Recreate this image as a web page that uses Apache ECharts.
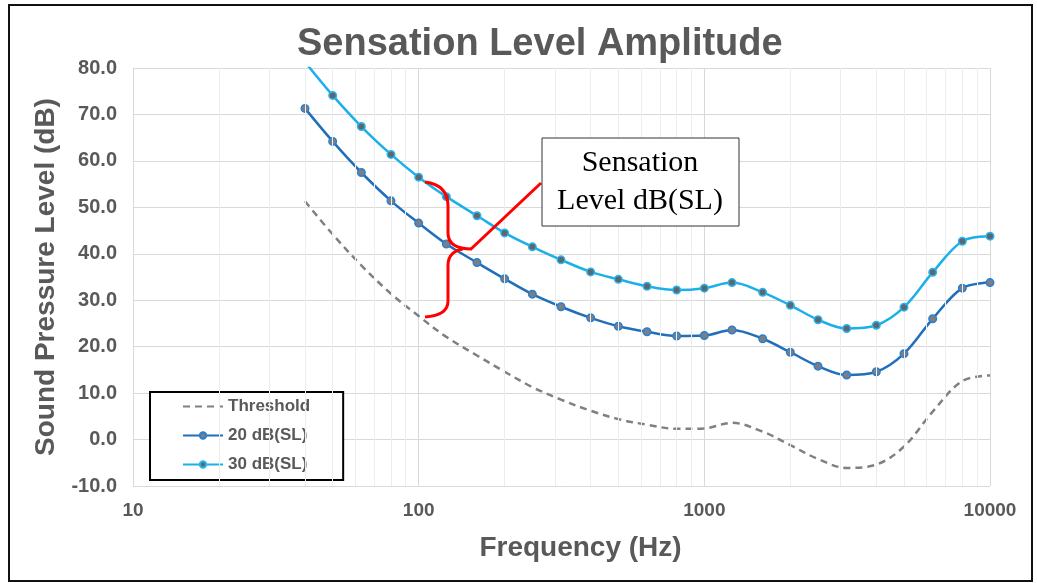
<!DOCTYPE html>
<html>
<head>
<meta charset="utf-8">
<script src="https://cdn.jsdelivr.net/npm/echarts@6/dist/echarts.min.js"></script>
<style>
html,body{margin:0;padding:0;background:#fff;}
#chart{width:1037px;height:583px;}
</style>
</head>
<body>
<div id="chart"></div>
<script>
// ---- data ----
const frequencies = [40,50,63,80,100,125,160,200,250,315,400,500,630,800,1000,1250,1600,2000,2500,3150,4000,5000,6300,8000,10000];
const threshold = [51.3,44.2,37.5,31.4,26.6,22.1,18.1,14.6,11.3,8.6,6.2,4.4,3.2,2.3,2.4,3.6,1.7,-1.2,-4.2,-6.1,-5.4,-1.5,6.0,12.6,13.8];
const sl20 = [71.3,64.2,57.5,51.4,46.6,42.1,38.1,34.6,31.3,28.6,26.2,24.4,23.2,22.3,22.4,23.6,21.7,18.8,15.8,13.9,14.6,18.5,26.0,32.6,33.8];
const sl30 = [81.3,74.1,67.4,61.4,56.5,52.3,48.2,44.5,41.5,38.7,36.1,34.5,33.0,32.2,32.6,33.8,31.7,28.9,25.8,23.9,24.6,28.5,36.0,42.7,43.8];
const seriesNames = ['Threshold','20 dB(SL)','30 dB(SL)'];
const minorFreqs = [20,30,40,50,60,70,80,90,200,300,400,500,600,700,800,900,2000,3000,4000,5000,6000,7000,8000,9000];
const titleText = 'Sensation Level Amplitude';
const xName = 'Frequency (Hz)';
const yName = 'Sound Pressure Level (dB)';
const noteLines = ['Sensation','Level dB(SL)'];

const pair = (ys) => frequencies.map((f,i)=>[f, ys[i]]);
const gray = '#595959';
const font = '"Liberation Sans", Arial, sans-serif';
const red = {fill:'none',stroke:'#ff0000',lineWidth:3};
const bez = (x1,y1,c1x,c1y,c2x,c2y,x2,y2) => ({type:'bezierCurve',z:100,silent:true,
  shape:{x1:x1,y1:y1,cpx1:c1x,cpy1:c1y,cpx2:c2x,cpy2:c2y,x2:x2,y2:y2},style:red});
const seg = (x1,y1,x2,y2) => ({type:'line',z:100,silent:true,shape:{x1:x1,y1:y1,x2:x2,y2:y2},style:red});

const chart = echarts.init(document.getElementById('chart'), null, {renderer:'canvas'});
chart.setOption({
  animation:false,
  backgroundColor:'#fff',
  title:{
    text:titleText, left:292, top:21,
    textStyle:{fontFamily:font,fontSize:38,fontWeight:'bold',color:gray}
  },
  grid:{left:133,right:47,top:68,bottom:97,containLabel:false},
  legend:{
    data:[
      {name:seriesNames[0], itemStyle:{opacity:0}},
      {name:seriesNames[1]},
      {name:seriesNames[2]}
    ],
    orient:'vertical', left:150, top:392,
    padding:[6,33,7,32], itemGap:12, itemWidth:40, itemHeight:8,
    backgroundColor:'#fff', borderColor:'#000', borderWidth:2,
    textStyle:{fontFamily:font,fontSize:17,fontWeight:'bold',color:gray}
  },
  xAxis:{
    type:'log', logBase:10, min:10, max:10000,
    name:xName, nameLocation:'middle', nameGap:48,
    nameTextStyle:{fontFamily:font,fontSize:28,fontWeight:'bold',color:gray,padding:[0,0,0,38]},
    axisLine:{show:false}, axisTick:{show:false},
    axisLabel:{fontFamily:font,fontSize:19,fontWeight:'bold',color:gray,margin:15,formatter:v=>String(v)},
    splitLine:{show:true,lineStyle:{color:'#d9d9d9',width:1}}
  },
  yAxis:{
    type:'value', min:-10, max:80, interval:10,
    name:yName, nameLocation:'middle', nameGap:73,
    nameTextStyle:{fontFamily:font,fontSize:28,fontWeight:'bold',color:gray},
    axisLine:{show:false}, axisTick:{show:false},
    axisLabel:{fontFamily:font,fontSize:20,fontWeight:'bold',color:gray,margin:16,formatter:v=>v.toFixed(1)},
    splitLine:{show:true,lineStyle:{color:'#d9d9d9',width:1}}
  },
  series:[
    {
      name:'minor', type:'line', data:[], z:1, silent:true,
      markLine:{
        silent:true, symbol:'none', animation:false,
        label:{show:false},
        lineStyle:{color:'#ededed',width:1,type:'solid'},
        emphasis:{disabled:true},
        data:minorFreqs.map(v=>({xAxis:v}))
      }
    },
    {
      name:seriesNames[0], type:'line', data:pair(threshold), smooth:0.35,
      showSymbol:false, symbol:'none',
      lineStyle:{color:'#808080',width:2.5,type:[7,5]},
      itemStyle:{color:'#808080'}, z:3
    },
    {
      name:seriesNames[1], type:'line', data:pair(sl20), smooth:0.35,
      symbol:'circle', symbolSize:7.5,
      lineStyle:{color:'#1f6fba',width:2.5},
      itemStyle:{color:'#7a7f85',borderColor:'#2a7fd0',borderWidth:1.5}, z:4
    },
    {
      name:seriesNames[2], type:'line', data:pair(sl30), smooth:0.35,
      symbol:'circle', symbolSize:7.5,
      lineStyle:{color:'#1cb0ea',width:2.5},
      itemStyle:{color:'#5d6770',borderColor:'#29b6f0',borderWidth:1.5}, z:5
    }
  ],
  graphic:[
    {type:'rect', z:100, silent:true,
     shape:{x:9,y:5,width:1023,height:576},
     style:{fill:'none',stroke:'#111',lineWidth:2}},
    bez(425,182, 441,184, 448,192, 448,206),
    seg(448,206, 448,233),
    bez(448,233, 448,243, 455,249, 472,249),
    bez(463,249, 455,250, 448,255, 448,265),
    seg(448,265, 448,301),
    bez(448,301, 448,311, 440,316, 425,317),
    seg(471,249, 541,183),
    {type:'rect', z:100, silent:true,
     shape:{x:542,y:138,width:197,height:88},
     style:{fill:'#fff',stroke:'#333',lineWidth:1}},
    {type:'text', z:101, silent:true,
     style:{x:640,y:163,text:noteLines[0],textAlign:'center',textVerticalAlign:'middle',
       font:'30px "Liberation Serif", "Times New Roman", serif',fill:'#000'}},
    {type:'text', z:101, silent:true,
     style:{x:640,y:201,text:noteLines[1],textAlign:'center',textVerticalAlign:'middle',
       font:'30px "Liberation Serif", "Times New Roman", serif',fill:'#000'}}
  ]
});
</script>
</body>
</html>
